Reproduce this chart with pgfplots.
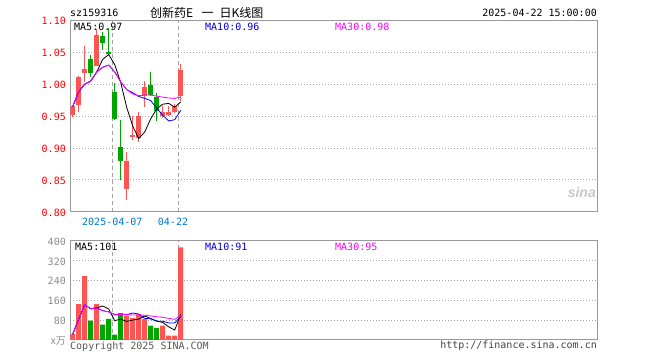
\documentclass[border=0pt]{standalone}
\usepackage{pgfplots}
\pgfplotsset{compat=1.18}
\usepackage{pgfplotstable}
\usepackage{fontspec}
\newfontfamily\mono{DejaVu Sans Mono}
\newfontfamily\cjk{Noto Sans CJK SC}
\newfontfamily\sinafont{Liberation Sans}
\newcommand\fs{\fontsize{10}{12}\selectfont}
\definecolor{cred}{RGB}{255,84,84}
\definecolor{cgreen}{RGB}{0,165,0}
\definecolor{tickred}{RGB}{255,0,0}
\definecolor{dateblue}{RGB}{0,120,210}
\definecolor{mablue}{RGB}{0,0,230}
\definecolor{mamag}{RGB}{255,0,255}
\definecolor{framegray}{RGB}{153,153,153}
\definecolor{gridgray}{RGB}{165,165,165}

\pgfplotstableread{
x o h l c
0 0.951 0.966 0.949 0.965
1 0.968 1.013 0.957 1.011
2 1.018 1.060 1.004 1.024
4 1.028 1.086 1.028 1.077
9 0.835 0.893 0.818 0.880
10 0.918 0.9495 0.913 0.9196
11 0.916 0.957 0.909 0.9505
12 0.981 1.005 0.964 0.9953
15 0.9505 0.965 0.947 0.9557
16 0.952 0.966 0.9495 0.957
17 0.957 0.969 0.955 0.966
18 0.982 1.031 0.973 1.0224
}\redc
\pgfplotstableread{
x o h l c
3 1.039 1.046 1.011 1.018
5 1.0755 1.082 1.054 1.064
6 1.050 1.088 1.046 1.0484
7 0.987 1.0016 0.943 0.945
8 0.901 0.944 0.850 0.879
13 0.9987 1.019 0.981 0.9825
14 0.9797 0.986 0.9417 0.9583
}\greenc
\pgfplotstableread{
x v
0 22.7
1 144
2 257
4 144
9 97
10 88
11 103
12 84
15 57
16 17
17 17
18 373
}\redv
\pgfplotstableread{
x v
3 77
5 61
6 84
7 21
8 108
13 57
14 48
}\greenv

\pgfplotsset{
  kbase/.style={
    scale only axis, width=527pt,
    xmin=-0.4, xmax=87.43,
    axis line style={draw=framegray, line width=0.8pt},
    major tick length=0pt,
    xmajorgrids, ymajorgrids,
    x grid style={draw=gridgray, line width=0.7pt, dash pattern=on 4pt off 3pt},
    y grid style={draw=gridgray, line width=0.7pt, dash pattern=on 1pt off 2pt},
    xtick={6.6,17.6},
    yticklabel style={font=\mono\fs, inner sep=0pt, anchor=east, xshift=-4.3pt, yshift=-1pt},
    xticklabel style={font=\mono\fs, inner sep=0pt, anchor=north, yshift=-5.7pt, text=dateblue},
    clip=true,
  },
  candle/.style n args={2}{forget plot, draw=none, mark=none,
    error bars/.cd, y dir=both, y explicit, error mark=none,
    error bar style={draw=#1, line width=#2, solid}},
}

\begin{document}
\begin{tikzpicture}[x=1pt,y=1pt]
\useasboundingbox (0,0) rectangle (660,360);

% ---------- price panel ----------
\begin{axis}[kbase,
  at={(70.3pt,148.3pt)}, anchor=south west, height=191.4pt,
  ymin=0.80, ymax=1.10,
  ytick={0.8,0.85,0.9,0.95,1.0,1.05,1.1},
  yticklabels={0.80,0.85,0.90,0.95,1.00,1.05,1.10},
  yticklabel style={text=tickred},
  xticklabels={2025-04-07,{\hspace*{-10.6pt}04-22}},
]
% wicks
\addplot[candle={cred}{1pt}]
  table[x=x, y expr={(\thisrow{h}+\thisrow{l})/2}, y error expr={(\thisrow{h}-\thisrow{l})/2}] {\redc};
\addplot[candle={cgreen}{1pt}]
  table[x=x, y expr={(\thisrow{h}+\thisrow{l})/2}, y error expr={(\thisrow{h}-\thisrow{l})/2}] {\greenc};
% bodies
\addplot[candle={cred}{5pt}]
  table[x=x, y expr={(\thisrow{o}+\thisrow{c})/2}, y error expr={abs(\thisrow{c}-\thisrow{o})/2}] {\redc};
\addplot[candle={cgreen}{5pt}]
  table[x=x, y expr={(\thisrow{o}+\thisrow{c})/2}, y error expr={abs(\thisrow{c}-\thisrow{o})/2}] {\greenc};
% moving averages
\addplot[black, line width=0.8pt, mark=none] coordinates {
(0,0.965)(1,0.988)(2,1.000)(3,1.0045)(4,1.019)(5,1.0388)(6,1.0464)(7,1.0306)(8,1.0028)(9,0.9634)
(10,0.9344)(11,0.9147)(12,0.9248)(13,0.9455)(14,0.9611)(15,0.9685)(16,0.9698)(17,0.9639)(18,0.9719)};
\addplot[mablue, line width=0.8pt, mark=none] coordinates {
(0,0.965)(1,0.988)(2,1.000)(3,1.0045)(4,1.019)(5,1.0265)(6,1.0297)(7,1.0191)(8,1.0036)(9,0.9912)
(10,0.9866)(11,0.9806)(12,0.9777)(13,0.9741)(14,0.9623)(15,0.9514)(16,0.9422)(17,0.9443)(18,0.9587)};
\addplot[mamag, line width=0.8pt, mark=none] coordinates {
(0,0.965)(1,0.988)(2,1.000)(3,1.0045)(4,1.019)(5,1.0265)(6,1.0297)(7,1.0191)(8,1.0036)(9,0.9912)
(10,0.9846)(11,0.9818)(12,0.9828)(13,0.9828)(14,0.9812)(15,0.9796)(16,0.9782)(17,0.9776)(18,0.9799)};
\end{axis}

% ---------- volume panel ----------
\begin{axis}[kbase,
  at={(70.3pt,20.2pt)}, anchor=south west, height=99.1pt,
  ymin=0, ymax=400,
  ytick={0,80,160,240,320,400},
  yticklabels={{\cjk\fontsize{10}{12}\selectfont x万},80,160,240,320,400},
  yticklabel style={text=black!45},
  xticklabels={},
]
\addplot[ybar, bar width=5pt, bar shift=0pt, fill=cred, draw=none, forget plot] table[x=x,y=v] {\redv};
\addplot[ybar, bar width=5pt, bar shift=0pt, fill=cgreen, draw=none, forget plot] table[x=x,y=v] {\greenv};
\addplot[black, line width=0.8pt, mark=none] coordinates {
(0,22.7)(1,83.4)(2,141.2)(3,125.2)(4,128.9)(5,136.6)(6,124.6)(7,77.4)(8,83.6)(9,74.2)
(10,79.6)(11,83.4)(12,96.0)(13,85.8)(14,76.0)(15,69.8)(16,52.6)(17,39.2)(18,102.4)};
\addplot[mablue, line width=0.8pt, mark=none] coordinates {
(0,22.7)(1,83.4)(2,141.2)(3,125.2)(4,128.9)(5,117.6)(6,112.8)(7,101.3)(8,102.1)(9,101.6)
(10,108.1)(11,104.0)(12,86.7)(13,84.7)(14,75.1)(15,74.7)(16,68.0)(17,67.6)(18,94.1)};
\addplot[mamag, line width=0.8pt, mark=none] coordinates {
(0,22.7)(1,83.4)(2,141.2)(3,125.2)(4,128.9)(5,117.6)(6,112.8)(7,101.3)(8,102.1)(9,101.6)
(10,100.3)(11,100.6)(12,99.3)(13,96.3)(14,93.0)(15,90.8)(16,86.5)(17,82.6)(18,97.9)};
\end{axis}

% ---------- texts ----------
\node[anchor=base west, font=\mono\fs, inner sep=0pt] at (70,343.3) {sz159316};
\node[anchor=base west, font=\cjk\fontsize{12}{12}\selectfont, inner sep=0pt] at (150,342.8) {创新药E};
\node[anchor=base west, font=\cjk\fontsize{12}{12}\selectfont, inner sep=0pt] at (201.5,342.8) {一};
\node[anchor=base west, font=\cjk\fontsize{12}{12}\selectfont, inner sep=0pt] at (219.5,342.8) {日K线图};
\node[anchor=base east, font=\mono\fs, inner sep=0pt] at (597,343.3) {2025-04-22 15:00:00};

\node[anchor=base west, font=\mono\fs, inner sep=0pt] at (74,330) {MA5:0.97};
\node[anchor=base west, font=\mono\fs, inner sep=0pt, text=mablue] at (205,329.5) {MA10:0.96};
\node[anchor=base west, font=\mono\fs, inner sep=0pt, text=mamag] at (335,329.5) {MA30:0.98};

\node[anchor=base west, font=\mono\fs, inner sep=0pt] at (75,110) {MA5:101};
\node[anchor=base west, font=\mono\fs, inner sep=0pt, text=mablue] at (205,110) {MA10:91};
\node[anchor=base west, font=\mono\fs, inner sep=0pt, text=mamag] at (335,110) {MA30:95};

\node[anchor=base west, font=\mono\fs, inner sep=0pt, text=black!65] at (70,11) {Copyright 2025 SINA.COM};
\node[anchor=base east, font=\mono\fs, inner sep=0pt, text=black!75] at (597,11.5) {http://finance.sina.com.cn};

\node[anchor=base east, font=\sinafont\bfseries\itshape\fontsize{14}{14}\selectfont, inner sep=0pt, text=black!22] at (596,162.5) {sina};
\end{tikzpicture}
\end{document}
